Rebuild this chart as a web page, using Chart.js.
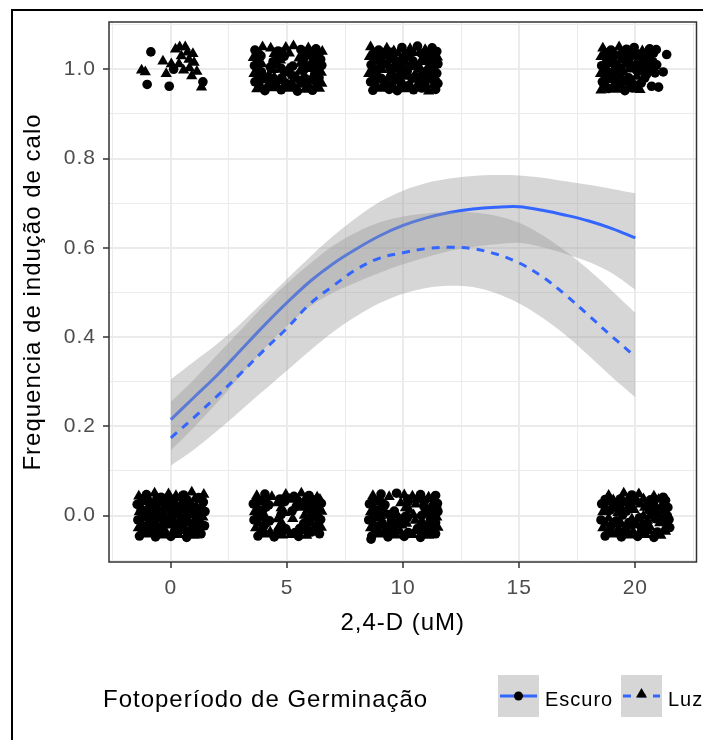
<!DOCTYPE html>
<html lang="pt">
<head>
<meta charset="utf-8">
<title>Frequencia de indução de calo</title>
<script src="https://cdn.jsdelivr.net/npm/chart.js@4.4.1/dist/chart.umd.min.js"></script>
<style>
  html, body { margin: 0; padding: 0; background: #ffffff; }
  canvas { display: block; }
</style>
</head>
<body>
<canvas id="chart" width="703" height="740"></canvas>
<script>
// 2,4-D dose grid used for the fitted curves
const doses = [0, 1, 2, 3, 4, 5, 6, 7, 8, 9, 10, 11, 12, 13, 14, 15, 16, 17, 18, 19, 20];

// Fitted induction frequency and confidence band, dark germination
const escuroFit   = [0.215, 0.265, 0.315, 0.370, 0.425, 0.477, 0.525, 0.565, 0.598, 0.627, 0.650, 0.667, 0.679, 0.687, 0.691, 0.692, 0.684, 0.673, 0.660, 0.643, 0.622];
const escuroUpper = [0.305, 0.345, 0.385, 0.430, 0.480, 0.530, 0.580, 0.627, 0.668, 0.703, 0.728, 0.745, 0.755, 0.761, 0.763, 0.762, 0.757, 0.749, 0.741, 0.732, 0.722];
const escuroLower = [0.146, 0.198, 0.253, 0.314, 0.372, 0.425, 0.469, 0.500, 0.523, 0.544, 0.563, 0.579, 0.593, 0.602, 0.608, 0.611, 0.601, 0.586, 0.568, 0.543, 0.506];

// Fitted induction frequency and confidence band, light germination
const luzFit   = [0.174, 0.220, 0.268, 0.318, 0.370, 0.420, 0.475, 0.515, 0.552, 0.577, 0.589, 0.598, 0.601, 0.598, 0.586, 0.566, 0.535, 0.494, 0.448, 0.401, 0.356];
const luzUpper = [0.255, 0.305, 0.360, 0.415, 0.470, 0.520, 0.565, 0.605, 0.635, 0.657, 0.670, 0.677, 0.680, 0.679, 0.672, 0.656, 0.628, 0.592, 0.550, 0.503, 0.454];
const luzLower = [0.112, 0.148, 0.190, 0.235, 0.280, 0.325, 0.370, 0.412, 0.447, 0.476, 0.497, 0.510, 0.515, 0.512, 0.498, 0.475, 0.443, 0.404, 0.358, 0.310, 0.265];

// Jittered explant observations (dose, callus 0/1), dark germination
const escuroAt0 = [[-0.86,1.039],[-1.02,0.966],[-0.07,0.962],[0.12,1.0],[1.38,0.972],
  [-1.05,0.047],[-0.42,0.041],[0.55,0.046],[1.2,0.04],
  [-1.45,0.025],[-0.78,0.022],[-0.15,0.031],[0.18,0.024],[0.82,0.026],[1.4,0.03],
  [-1.02,0.012],[-0.38,0.01],[0.26,0.007],[0.92,0.005],[1.47,0.009],
  [-1.42,-0.01],[-0.8,-0.012],[-0.18,-0.005],[0.45,-0.007],[1.08,-0.009],
  [-1.06,-0.024],[-0.4,-0.026],[0.22,-0.029],[0.88,-0.031],[1.45,-0.023],
  [-1.35,-0.046],[-0.66,-0.048],[0.0,-0.047],[0.68,-0.049],[1.3,-0.041],
  [-1.25,0.037],[-0.6,0.038],[0.05,0.036],[0.7,0.035],[1.33,0.036],
  [-0.9,0.02],[-0.25,0.019],[0.4,0.02],[1.05,0.018],
  [-1.24,0.001],[-0.62,0.002],[0.03,-0.002],[0.68,0.0],[1.3,-0.001],
  [-0.93,-0.017],[-0.26,-0.016],[0.38,-0.02],[1.02,-0.019],
  [-1.22,-0.036],[-0.55,-0.035],[0.15,-0.036],[0.84,-0.037]];
const escuroAt5 = [[3.62,1.043],[4.62,1.041],[5.6,1.044],[6.25,1.046],
  [3.88,1.03],[4.88,1.029],[5.85,1.031],[6.45,1.022],
  [3.6,1.008],[4.28,1.005],[5.25,1.007],[5.9,1.006],[6.5,1.009],
  [3.9,0.994],[5.2,0.987],[6.2,0.99],
  [3.62,0.972],[4.3,0.97],[4.95,0.969],[5.6,0.971],[6.24,0.973],
  [4.05,0.952],[4.75,0.954],[5.45,0.951],[6.1,0.953],
  [3.75,1.037],[4.78,1.038],[5.75,1.034],[6.38,1.036],
  [4.4,1.017],[5.7,1.018],[6.35,1.019],
  [3.75,1.001],[4.75,1.002],[5.72,0.998],[6.36,1.0],
  [4.08,0.98],[4.78,0.981],[5.75,0.98],[6.38,0.981],
  [3.8,0.964],[4.5,0.965],[5.2,0.964],[5.88,0.963],
  [4.05,0.048],[5.3,0.043],[5.95,0.045],
  [3.55,0.026],[4.22,0.024],[4.9,0.031],[5.92,0.029],[6.48,0.027],
  [3.95,0.012],[5.22,0.01],[6.2,0.007],
  [3.58,-0.01],[4.25,-0.012],[5.9,-0.011],[6.45,-0.009],
  [4.0,-0.024],[4.95,-0.03],[5.55,-0.029],[6.2,-0.031],
  [3.75,-0.046],[4.45,-0.048],[5.5,-0.047],[6.4,-0.041],
  [3.72,0.036],[4.7,0.037],[5.45,0.034],[6.12,0.035],
  [4.1,0.019],[5.4,0.02],[6.05,0.017],
  [3.75,0.001],[4.75,0.002],[6.05,-0.002],
  [4.1,-0.017],[5.72,-0.018],[6.35,-0.019],
  [3.9,-0.036],[4.62,-0.035],[5.35,-0.038],[6.05,-0.037]];
const escuroAt10 = [[8.95,1.043],[9.95,1.049],[10.62,1.052],[11.25,1.048],[11.45,1.04],
  [8.88,1.024],[9.55,1.026],[10.22,1.029],[11.2,1.031],
  [8.62,1.01],[9.28,1.012],[9.95,1.011],[10.6,1.009],[11.5,1.012],
  [8.85,0.994],[9.5,0.988],[10.18,0.996],[10.85,0.993],[11.45,0.991],
  [8.6,0.972],[9.25,0.97],[9.92,0.969],[10.92,0.971],[11.5,0.968],
  [8.7,0.953],[9.4,0.955],[9.75,0.952],[10.45,0.954],[10.8,0.958],[11.4,0.955],
  [8.75,1.037],[9.45,1.038],[10.12,1.034],[10.78,1.036],[11.35,1.037],
  [9.05,1.017],[9.75,1.018],[10.42,1.019],[11.05,1.018],
  [8.75,1.001],[9.45,1.002],[10.1,0.998],[11.08,1.0],
  [9.05,0.98],[9.72,0.981],[10.38,0.98],[11.05,0.981],
  [8.8,0.964],[9.5,0.965],[10.25,0.964],[10.95,0.963],
  [9.05,0.048],[9.72,0.05],[10.75,0.047],[11.4,0.045],
  [8.55,0.026],[9.22,0.024],[10.22,0.031],[10.9,0.029],[11.48,0.027],
  [8.92,0.012],[9.62,0.01],[10.95,0.007],[11.5,0.009],
  [8.52,-0.01],[9.5,-0.012],[10.18,-0.005],[11.18,-0.009],
  [8.95,-0.024],[9.62,-0.026],[10.62,-0.029],[11.25,-0.031],
  [8.65,-0.046],[8.62,-0.053],[9.35,-0.048],[10.05,-0.047],[10.75,-0.049],[11.4,-0.041],
  [8.72,0.036],[10.2,0.037],[10.92,0.034],
  [9.1,0.019],[10.9,0.02],[11.45,0.017],
  [8.72,0.001],[9.4,0.002],[10.1,-0.002],[10.8,0.0],[11.38,-0.001],
  [9.1,-0.017],[9.8,-0.016],[10.8,-0.017],[11.4,-0.016],
  [8.82,-0.036],[9.52,-0.035],[10.22,-0.038],[10.92,-0.037]];
const escuroAt20 = [[18.95,1.043],[19.62,1.045],[19.95,1.049],[20.62,1.046],[20.9,1.044],
  [18.85,1.024],[19.52,1.026],[19.88,1.031],[20.55,1.029],[21.35,1.033],
  [18.55,1.008],[19.22,1.006],[19.9,1.005],[20.25,1.012],[20.58,1.008],[20.92,1.01],
  [18.82,0.994],[19.15,0.988],[20.15,0.996],[20.5,0.99],[20.85,0.992],[21.2,0.994],
  [18.58,0.972],[19.25,0.97],[19.58,0.975],[20.25,0.969],
  [18.85,0.957],[19.55,0.952],[19.88,0.958],[20.7,0.962],[21.0,0.96],
  [18.75,1.037],[19.45,1.038],[20.12,1.034],[20.78,1.036],
  [19.05,1.017],[19.72,1.018],[20.4,1.019],[20.75,1.017],
  [18.7,1.001],[19.38,1.002],[20.05,0.998],[20.38,1.001],[20.7,1.0],
  [19.02,0.98],[19.72,0.981],[20.4,0.98],
  [18.68,0.964],[19.38,0.965],[20.05,0.964],
  [19.85,0.046],[21.2,0.041],
  [18.55,0.026],[19.22,0.024],[19.88,0.031],[20.55,0.029],[21.25,0.027],
  [18.92,0.012],[19.62,0.01],[20.6,0.011],[21.28,0.012],
  [18.52,-0.01],[19.18,-0.012],[20.18,-0.005],[20.85,-0.007],[21.45,-0.009],
  [18.95,-0.024],[19.62,-0.026],[20.28,-0.029],[21.48,-0.027],
  [18.7,-0.046],[19.4,-0.048],[20.1,-0.047],[20.8,-0.049],
  [18.7,0.036],[19.35,0.037],[20.0,0.034],[20.65,0.035],[21.3,0.034],
  [19.05,0.019],[19.75,0.02],[20.75,0.017],[21.4,0.018],
  [19.45,0.001],[20.72,0.002],[21.38,-0.001],
  [19.05,-0.017],[19.72,-0.016],[20.38,-0.02],[21.35,-0.019],
  [18.85,-0.036],[19.55,-0.035],[20.25,-0.038],[20.95,-0.037]];

// Jittered explant observations (dose, callus 0/1), light germination
const luzAt0 = [[-1.26,0.998],[-1.1,0.994],[-0.34,1.018],[-0.2,0.99],[0.02,1.012],
  [0.2,1.045],[0.38,1.05],[0.45,1.03],[0.35,1.012],[0.62,1.05],[0.72,1.038],
  [0.78,1.022],[0.55,0.998],[0.8,1.003],[0.95,1.035],[1.0,1.015],[1.12,0.995],[0.9,0.985],[1.32,0.96],
  [-1.38,0.043],[-0.7,0.05],[-0.1,0.048],[0.22,0.044],[0.9,0.052],[1.42,0.047],
  [-1.12,0.03],[-0.47,0.028],[0.48,0.029],[1.1,0.021],
  [-1.36,0.008],[-0.72,0.006],[-0.06,0.013],[0.6,0.011],[1.24,0.012],
  [-1.1,-0.006],[-0.5,-0.008],[0.14,-0.011],[0.78,-0.013],[1.38,-0.004],
  [-1.4,-0.028],[-0.74,-0.03],[-0.1,-0.022],[0.56,-0.025],[1.2,-0.027],
  [-1.0,-0.042],[-0.32,-0.044],[0.34,-0.043],[1.0,-0.045],
  [-0.92,0.035],[-0.27,0.034],[0.38,0.039],[1.03,0.037],
  [-1.27,0.018],[-0.57,0.016],[0.08,0.017],[0.72,0.016],[1.35,0.019],
  [-0.94,-0.001],[-0.3,0.0],[0.36,0.001],[1.0,0.002],
  [-1.26,-0.018],[-0.6,-0.019],[0.06,-0.018],[0.7,-0.017],[1.32,-0.016],
  [-0.88,-0.037],[-0.2,-0.038],[0.5,-0.034],[1.15,-0.035]];
const luzAt5 = [[3.95,1.05],[4.3,1.047],[4.95,1.049],[5.28,1.052],[5.92,1.048],[6.52,1.04],
  [3.55,1.026],[4.55,1.024],[5.52,1.025],[6.18,1.027],
  [3.92,1.012],[4.6,1.01],[5.58,1.013],[6.22,1.011],
  [3.58,0.99],[4.22,0.988],[4.9,0.992],[5.55,0.995],[6.48,0.993],
  [3.95,0.976],[4.62,0.974],[5.28,0.977],[5.9,0.975],[6.5,0.968],
  [3.7,0.956],[4.4,0.958],[5.1,0.957],[5.78,0.955],[6.4,0.957],
  [4.45,1.035],[5.1,1.036],[6.08,1.037],
  [3.72,1.019],[4.72,1.02],[6.05,1.016],
  [4.42,0.999],[5.05,1.0],[6.05,1.001],
  [3.75,0.982],[4.45,0.983],[5.4,0.984],[6.08,0.982],
  [4.15,0.963],[4.85,0.962],[5.55,0.966],[6.25,0.964],
  [3.7,0.044],[4.35,0.042],[4.95,0.047],[5.62,0.05],[6.3,0.041],
  [3.9,0.03],[4.58,0.028],[5.6,0.025],[6.25,0.022],
  [3.6,0.008],[4.9,0.006],[5.88,0.011],[6.5,0.009],
  [3.9,-0.006],[4.6,-0.008],[5.25,-0.007],[6.22,-0.005],
  [3.65,-0.028],[4.65,-0.026],[5.88,-0.025],[6.48,-0.027],
  [4.1,-0.042],[4.8,-0.044],[5.15,-0.043],[5.85,-0.045],
  [4.05,0.035],[5.1,0.036],[5.78,0.037],[6.42,0.036],
  [3.75,0.018],[4.75,0.017],[5.75,0.018],[6.38,0.019],
  [4.05,-0.001],[5.75,0.0],[6.35,0.001],
  [3.78,-0.018],[4.8,-0.019],[6.05,-0.017],
  [4.28,-0.037],[5.0,-0.036],[5.7,-0.035],[6.3,-0.036]];
const luzAt10 = [[8.6,1.05],[9.3,1.047],[9.6,1.041],[10.3,1.046],[10.95,1.044],
  [8.55,1.028],[9.22,1.03],[9.9,1.022],[10.88,1.025],[11.48,1.027],
  [8.95,1.006],[9.62,1.008],[10.28,1.005],[11.25,1.007],
  [8.52,0.99],[9.85,0.992],[10.52,0.989],[11.18,0.987],
  [8.92,0.976],[9.6,0.974],[10.6,0.977],[11.25,0.975],
  [9.05,0.957],[10.1,0.956],[11.1,0.951],
  [9.1,1.035],[9.78,1.036],[10.45,1.037],[11.1,1.035],
  [8.72,1.019],[9.4,1.02],[10.08,1.016],[10.75,1.017],[11.35,1.02],
  [9.1,0.999],[9.78,1.0],[10.75,1.001],[11.38,0.999],
  [8.7,0.982],[9.38,0.983],[10.05,0.984],[10.72,0.982],[11.38,0.983],
  [9.15,0.963],[9.85,0.962],[10.62,0.966],[11.3,0.964],
  [8.7,0.044],[9.4,0.042],[10.05,0.046],[10.4,0.043],[11.1,0.041],
  [8.88,0.03],[9.9,0.028],[10.55,0.025],[11.22,0.022],
  [8.6,0.008],[9.25,0.006],[10.28,0.011],[11.28,0.012],
  [8.85,-0.006],[9.85,-0.008],[10.52,-0.011],[11.45,-0.004],
  [8.6,-0.028],[9.28,-0.03],[9.95,-0.022],[10.95,-0.025],[11.5,-0.027],
  [9.0,-0.042],[9.7,-0.044],[10.4,-0.043],[11.1,-0.045],
  [9.05,0.035],[10.58,0.036],[11.25,0.037],
  [8.75,0.018],[10.1,0.017],[11.2,0.018],
  [9.05,-0.001],[9.75,0.0],[10.45,0.001],[11.1,0.002],
  [8.75,-0.018],[9.45,-0.019],[10.15,-0.018],[11.1,-0.019],
  [9.18,-0.037],[9.88,-0.036],[10.58,-0.035],[11.25,-0.036]];
const luzAt20 = [[18.6,1.047],[19.3,1.05],[20.3,1.041],
  [18.52,1.028],[19.2,1.03],[20.22,1.025],
  [18.88,1.012],[19.55,1.011],
  [18.5,0.99],[19.5,0.993],
  [18.9,0.976],[19.9,0.971],
  [18.52,0.953],[19.2,0.955],[20.2,0.954],
  [19.1,1.035],[19.78,1.036],[20.45,1.037],
  [18.72,1.019],[19.38,1.02],[20.05,1.016],
  [19.05,0.999],[19.72,1.0],
  [18.68,0.982],[19.38,0.983],[20.05,0.984],
  [19.05,0.963],[19.72,0.962],
  [18.85,0.045],[19.5,0.05],[20.15,0.048],[20.8,0.043],
  [18.9,0.03],[19.55,0.028],[20.22,0.025],[20.88,0.022],
  [18.6,0.008],[19.25,0.006],[19.95,0.013],[20.92,0.007],
  [18.85,-0.006],[19.85,-0.008],[20.52,-0.011],[21.2,-0.013],
  [18.6,-0.028],[19.28,-0.03],[19.95,-0.022],[20.62,-0.025],[21.25,-0.031],
  [19.05,-0.042],[19.75,-0.044],[20.45,-0.043],[21.1,-0.045],
  [19.05,0.035],[19.68,0.036],[20.35,0.037],[21.0,0.036],
  [18.72,0.018],[19.4,0.017],[20.4,0.018],[21.1,0.019],
  [20.35,-0.001],[21.05,0.0],
  [18.72,-0.018],[19.4,-0.019],[20.05,-0.018],[21.05,-0.017],
  [19.2,-0.037],[19.9,-0.036],[20.6,-0.035],[21.3,-0.036]];

// Axis breaks and labels
const xBreaks = [0, 5, 10, 15, 20];
const xMinorBreaks = [-2.5, 2.5, 7.5, 12.5, 17.5, 22.5];
const yBreaks = [0, 0.2, 0.4, 0.6, 0.8, 1.0];
const yMinorBreaks = [-0.1, 0.1, 0.3, 0.5, 0.7, 0.9, 1.1];
const groupLabels = ['Escuro', 'Luz'];
const legendTitle = 'Fotoperíodo de Germinação';
const xTitle = '2,4-D (uM)';
const yTitle = 'Frequencia de indução de calo';

const FONT = "'Liberation Sans', Arial, Helvetica, sans-serif";
const BLUE = '#3366FF';
const RIBBON = 'rgba(153,153,153,0.4)';
const GRID = '#EBEBEB';
const NONE = 'rgba(0,0,0,0)';

const asPoints = list => list.map(([x, y]) => ({ x, y }));
const asCurve = values => doses.map((d, i) => ({ x: d, y: values[i] }));

function bandLine(values, fillTarget, order) {
  return {
    type: 'line', data: asCurve(values), borderColor: NONE, borderWidth: 0,
    pointRadius: 0, tension: 0.35, fill: fillTarget, backgroundColor: RIBBON, order
  };
}

// Slightly wider glyph spacing, like the original rendering
const spacing = {
  id: 'spacing',
  beforeLayout(chart) { chart.ctx.letterSpacing = '1px'; },
  beforeDraw(chart) { chart.ctx.letterSpacing = '1px'; }
};

// Page frame, panel border and the legend strip below the axis
const decorations = {
  id: 'decorations',
  beforeDraw(chart) {
    const { ctx, width, height } = chart;
    ctx.save();
    ctx.fillStyle = '#ffffff';
    ctx.fillRect(0, 0, width, height);
    ctx.restore();
  },
  afterDatasetsDraw(chart) {
    const { ctx, chartArea: a } = chart;
    ctx.save();
    ctx.strokeStyle = '#333333';
    ctx.lineWidth = 1.5;
    ctx.strokeRect(a.left, a.top, a.right - a.left, a.bottom - a.top);
    ctx.restore();
  },
  afterDraw(chart) {
    const { ctx, width, height } = chart;
    ctx.save();
    ctx.fillStyle = '#000000';
    ctx.fillRect(11, 9, width - 11, 2);
    ctx.fillRect(11, 9, 2, height - 9);

    ctx.letterSpacing = '1px';
    ctx.textBaseline = 'alphabetic';
    ctx.textAlign = 'left';
    ctx.font = '24px ' + FONT;
    ctx.fillText(legendTitle, 103, 707);

    const keys = [
      { x: 498, label: groupLabels[0], ds: chart.data.datasets[3], shape: 'circle' },
      { x: 621, label: groupLabels[1], ds: chart.data.datasets[0], shape: 'triangle' }
    ];
    keys.forEach(k => {
      ctx.fillStyle = '#D6D6D6';
      ctx.fillRect(k.x, 675, 41, 42);
      ctx.strokeStyle = k.ds.borderColor;
      ctx.lineWidth = 3;
      ctx.setLineDash(k.ds.borderDash || []);
      ctx.beginPath();
      ctx.moveTo(k.x + 2, 696);
      ctx.lineTo(k.x + 39, 696);
      ctx.stroke();
      ctx.setLineDash([]);
      ctx.fillStyle = '#000000';
      ctx.beginPath();
      if (k.shape === 'circle') {
        ctx.arc(k.x + 20.5, 696, 4.5, 0, Math.PI * 2);
      } else {
        ctx.moveTo(k.x + 20.5, 688);
        ctx.lineTo(k.x + 26, 697.5);
        ctx.lineTo(k.x + 15, 697.5);
        ctx.closePath();
      }
      ctx.fill();
      ctx.font = '20px ' + FONT;
      ctx.fillText(k.label, k.x + 47, 706);
    });
    ctx.restore();
  }
};

const isMajorX = v => xBreaks.includes(v);
const isMajorY = v => yBreaks.includes(v);

new Chart(document.getElementById('chart'), {
  type: 'line',
  data: {
    datasets: [
      { label: groupLabels[1], type: 'line', data: asCurve(luzFit), borderColor: BLUE, borderWidth: 3,
        borderDash: [8, 7], pointRadius: 0, tension: 0.35, fill: false, order: 0 },
      bandLine(luzUpper, '+1', 1),
      bandLine(luzLower, false, 1),
      { label: groupLabels[0], type: 'line', data: asCurve(escuroFit), borderColor: BLUE, borderWidth: 3,
        pointRadius: 0, tension: 0.35, fill: false, order: 2 },
      bandLine(escuroUpper, '+1', 3),
      bandLine(escuroLower, false, 3),
      { label: groupLabels[0], type: 'scatter',
        data: asPoints([...escuroAt0, ...escuroAt5, ...escuroAt10, ...escuroAt20]),
        pointStyle: 'circle', pointRadius: 4.8, backgroundColor: '#000000', borderWidth: 0, order: 5 },
      { label: groupLabels[1], type: 'scatter',
        data: asPoints([...luzAt0, ...luzAt5, ...luzAt10, ...luzAt20]),
        pointStyle: 'triangle', pointRadius: 6.5, backgroundColor: '#000000', borderWidth: 0, order: 5 }
    ]
  },
  options: {
    responsive: false,
    devicePixelRatio: 1,
    animation: false,
    events: [],
    layout: { padding: { left: 0, right: 5, top: 22, bottom: 93 } },
    plugins: { legend: { display: false }, tooltip: { enabled: false } },
    scales: {
      x: {
        type: 'linear', position: 'bottom', min: -2.663, max: 22.633,
        afterBuildTicks: s => { s.ticks = [...xMinorBreaks, ...xBreaks].sort((a, b) => a - b).map(value => ({ value })); },
        afterFit: s => { s.height = 85; },
        border: { display: false },
        grid: {
          color: GRID,
          lineWidth: c => (c.tick && isMajorX(c.tick.value)) ? 2 : 1,
          tickColor: c => (c.tick && isMajorX(c.tick.value)) ? '#333333' : NONE,
          tickWidth: 1.5, tickLength: 6
        },
        ticks: {
          autoSkip: false, maxRotation: 0, padding: 8, color: '#4D4D4D',
          font: { family: FONT, size: 21 },
          callback: v => isMajorX(v) ? String(v) : ''
        },
        title: { display: true, text: xTitle, color: '#000000', font: { family: FONT, size: 24 }, padding: { top: 0, bottom: 9 } }
      },
      y: {
        type: 'linear', position: 'left', min: -0.1042, max: 1.106,
        afterBuildTicks: s => { s.ticks = [...yMinorBreaks, ...yBreaks].sort((a, b) => a - b).map(value => ({ value })); },
        afterFit: s => { s.width = 109; },
        border: { display: false },
        grid: {
          color: GRID,
          lineWidth: c => (c.tick && isMajorY(c.tick.value)) ? 2 : 1,
          tickColor: c => (c.tick && isMajorY(c.tick.value)) ? '#333333' : NONE,
          tickWidth: 1.5, tickLength: 6
        },
        ticks: {
          autoSkip: false, padding: 7, color: '#4D4D4D',
          font: { family: FONT, size: 21 },
          callback: v => isMajorY(v) ? v.toFixed(1) : ''
        },
        title: { display: true, text: yTitle, color: '#000000', font: { family: FONT, size: 24 }, padding: { top: 19, bottom: 0 } }
      }
    }
  },
  plugins: [spacing, decorations]
});
</script>
</body>
</html>
